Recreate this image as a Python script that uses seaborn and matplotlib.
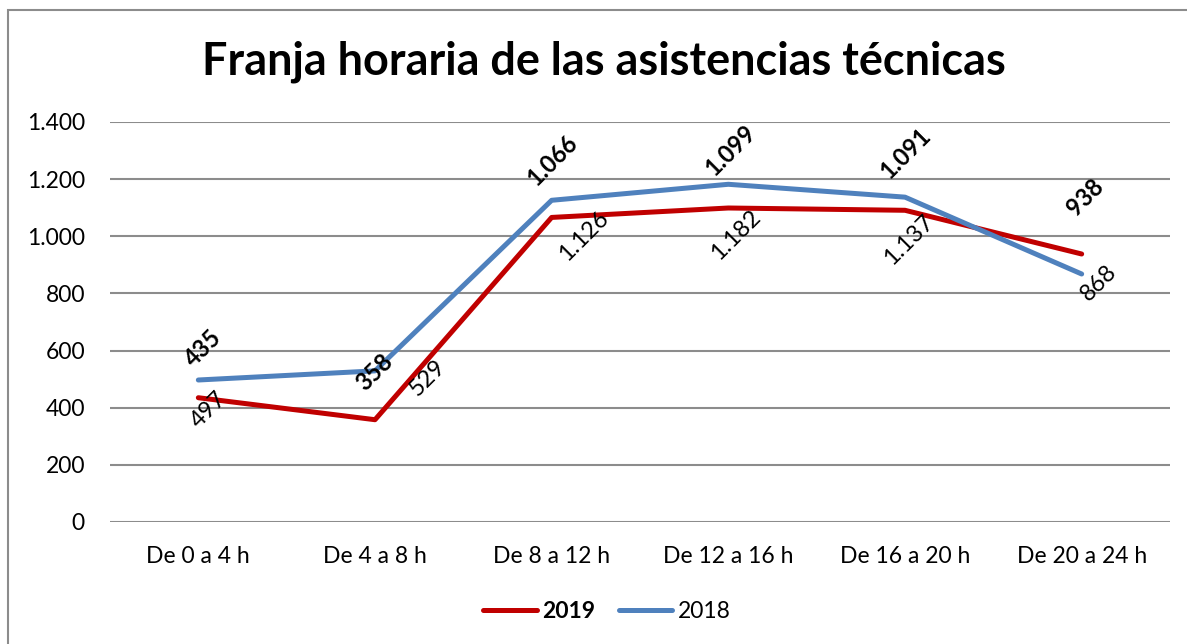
import pandas as pd
import seaborn as sns
import matplotlib.pyplot as plt
from matplotlib.patches import Rectangle

# data
franjas = ['De 0 a 4 h', 'De 4 a 8 h', 'De 8 a 12 h', 'De 12 a 16 h', 'De 16 a 20 h', 'De 20 a 24 h']
v2019 = [435, 358, 1066, 1099, 1091, 938]
v2018 = [497, 529, 1126, 1182, 1137, 868]
years = ['2019', '2018']
yticks = [0, 200, 400, 600, 800, 1000, 1200, 1400]

colors = {'2019': '#C00000', '2018': '#4F81BD'}
# label offsets in pixels (dx, dy) for the data labels
off_2019 = [(5, 50), (0, 48), (1, 57), (2, 58), (1, 57), (4, 57)]
off_2018 = [(10, -30), (53, -7), (32, -36), (7, -51), (4, -43), (17, -9)]


def fmt(v):
    return '{:,}'.format(v).replace(',', '.')


df = pd.DataFrame({'franja': franjas * 2,
                   'valor': v2019 + v2018,
                   'anio': ['2019'] * len(v2019) + ['2018'] * len(v2018)})
df['x'] = list(range(len(franjas))) * 2

sns.set_style('white')
plt.rcParams['font.family'] = ['Lato', 'DejaVu Sans']
plt.rcParams['text.color'] = 'black'

W, H = 1187, 644
fig = plt.figure(figsize=(W / 100, H / 100), dpi=100)
ax = fig.add_axes([110 / W, (H - 522) / H, 1060 / W, 400 / H])

sns.lineplot(data=df, x='x', y='valor', hue='anio', hue_order=years, palette=colors,
             sort=False, linewidth=3.6, ax=ax, legend=False)

ax.set_xlim(-0.5, len(franjas) - 0.5)
ax.set_ylim(0, 1400)
ax.set_yticks(yticks)
ax.set_yticklabels([fmt(t) for t in yticks])
ax.set_xticks(range(len(franjas)))
ax.set_xticklabels(franjas)
ax.tick_params(axis='both', length=0, labelsize=16.5, colors='black')
ax.tick_params(axis='y', pad=18)
ax.tick_params(axis='x', pad=17)
ax.yaxis.grid(True, color='#8c8c8c', linewidth=1.5)
ax.set_axisbelow(True)
for s in ax.spines.values():
    s.set_visible(False)
ax.set_xlabel('')
ax.set_ylabel('')

for i, v in enumerate(v2019):
    ax.annotate(fmt(v), (i, v), xytext=off_2019[i], textcoords='offset pixels',
                ha='center', va='center', rotation=45, fontsize=17, fontweight='bold')
for i, v in enumerate(v2018):
    ax.annotate(fmt(v), (i, v), xytext=off_2018[i], textcoords='offset pixels',
                ha='center', va='center', rotation=45, fontsize=17)

fig.text(604 / W, 1 - 62 / H, 'Franja horaria de las asistencias técnicas',
         ha='center', va='center', fontsize=32.4, fontweight='bold')

handles = [plt.Line2D([], [], color=colors[y], linewidth=3.6) for y in years]
leg = fig.legend(handles, years, loc='center', bbox_to_anchor=(607 / W, 1 - 612 / H),
                 ncol=2, frameon=False, fontsize=16.5, handlelength=2.35, columnspacing=1.0,
                 handletextpad=0.25)
leg.get_texts()[0].set_fontweight('bold')

fig.patches.append(Rectangle((8 / W, -0.1), 1.2, 1.1 - 10 / H, transform=fig.transFigure,
                             fill=False, edgecolor='#8c8c8c', linewidth=1.5))

fig.savefig('out.png', dpi=100)
